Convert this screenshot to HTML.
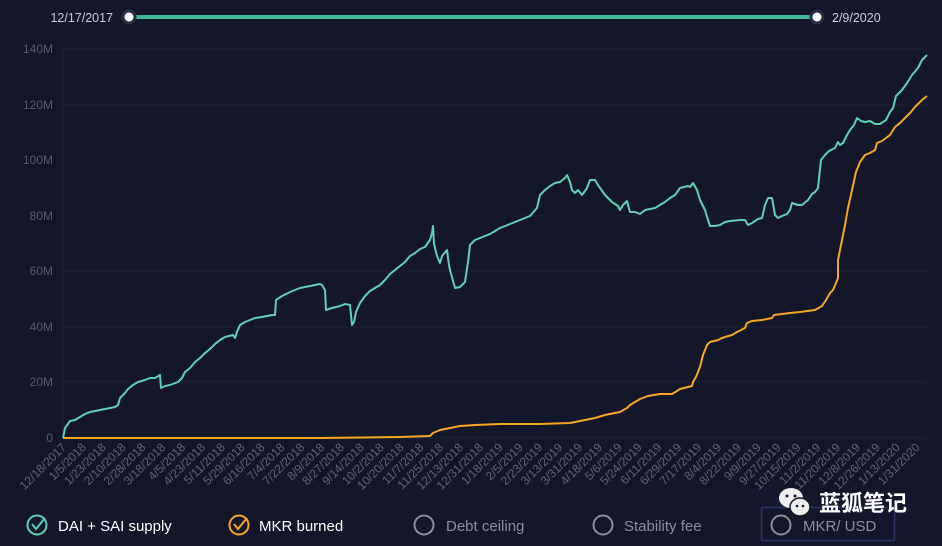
<!DOCTYPE html>
<html><head><meta charset="utf-8"><style>
html,body{margin:0;padding:0;background:#14162a;}
body{width:942px;height:546px;overflow:hidden;position:relative;font-family:"Liberation Sans","Noto Sans CJK SC",sans-serif;}
</style></head><body>
<svg width="942" height="546" xmlns="http://www.w3.org/2000/svg" style="position:absolute;left:0;top:0">
<rect width="942" height="546" fill="#14162a"/>
<text x="113" y="22" fill="#c9cbd6" font-size="12.5" text-anchor="end" font-family="Liberation Sans, sans-serif">12/17/2017</text>
<text x="832" y="22" fill="#c9cbd6" font-size="12.5" font-family="Liberation Sans, sans-serif">2/9/2020</text>
<line x1="129" y1="17" x2="817" y2="17" stroke="#3fb59a" stroke-width="4"/>
<circle cx="129" cy="17" r="6" fill="#fff" stroke="#2a2d45" stroke-width="3"/>
<circle cx="817" cy="17" r="6" fill="#fff" stroke="#2a2d45" stroke-width="3"/>
<g stroke="#1e2136" stroke-width="1">
<line x1="63" y1="49" x2="927" y2="49"/><line x1="63" y1="105" x2="927" y2="105"/>
<line x1="63" y1="160" x2="927" y2="160"/><line x1="63" y1="216" x2="927" y2="216"/>
<line x1="63" y1="271" x2="927" y2="271"/><line x1="63" y1="327" x2="927" y2="327"/>
<line x1="63" y1="382" x2="927" y2="382"/><line x1="63" y1="438" x2="927" y2="438"/>
<line x1="63" y1="49" x2="63" y2="438"/>
</g>
<g fill="#565a70" font-size="12" text-anchor="end" font-family="Liberation Sans, sans-serif">
<text x="53" y="53">140M</text><text x="53" y="109">120M</text><text x="53" y="164">100M</text>
<text x="53" y="220">80M</text><text x="53" y="275">60M</text><text x="53" y="331">40M</text>
<text x="53" y="386">20M</text><text x="53" y="442">0</text>
</g>
<g fill="#5f6378" font-size="12" text-anchor="end" font-family="Liberation Sans, sans-serif" id="xl"></g>
<polyline fill="none" stroke="#f5a623" stroke-width="2" stroke-linejoin="round" points="63,438 320,438 400,437 430,436 433,433 440,430 450,428 460,426 475,425 500,424 540,424 570,423 575,422 585,420 595,418 605,415 620,412 627,408 630,405 635,402 640,399 648,396 660,394 672,394 677,391 680,389 692,386 693,382 696,377 700,367 703,355 707,345 710,342 718,340 722,338 725,337 732,335 737,332 745,328 747,323 752,321 762,320 772,318 774,315 790,313 800,312 815,310 822,306 826,300 830,293 833,290 836,283 838,278 838,260 841,245 845,225 848,208 852,190 856,172 860,162 865,155 870,153 875,150 877,143 882,141 890,135 895,127 900,123 905,118 910,113 915,107 922,100 927,96"/>
<polyline fill="none" stroke="#5fd0b3" stroke-width="2" stroke-linejoin="round" points="63,438 65,428 70,421 75,420 80,417 85,414 90,412 95,411 100,410 105,409 110,408 115,407 118,405 120,398 125,393 128,389 133,385 138,382 145,380 150,378 155,378 160,375 161,388 165,386 170,385 178,382 182,378 185,372 190,368 195,362 200,358 205,353 210,349 215,344 220,340 225,337 233,335 235,338 237,332 240,325 245,322 250,320 255,318 262,317 272,315 275,315 276,300 282,296 290,292 300,288 310,286 320,284 322,285 325,290 326,310 332,308 340,306 345,304 350,305 352,325 354,322 356,312 360,303 365,296 370,291 375,288 380,285 385,280 390,274 395,270 400,266 405,262 410,256 415,253 420,249 425,247 430,240 432,233 433,226 434,244 437,256 440,263 442,256 447,250 449,265 450,270 455,288 460,287 465,282 468,262 470,245 475,240 480,238 490,234 500,228 510,224 520,220 530,216 537,208 540,195 545,190 550,186 555,183 560,182 565,178 567,175 570,182 572,190 575,193 578,190 582,195 587,188 590,180 595,180 598,185 605,195 612,202 618,206 620,210 623,205 627,201 630,212 635,212 640,214 645,210 655,208 665,202 670,198 675,195 680,188 688,186 690,187 693,183 697,190 700,200 705,210 708,220 710,226 715,226 720,225 725,222 730,221 740,220 745,220 748,225 752,223 758,219 762,218 765,205 768,198 772,198 775,215 778,218 782,216 787,214 790,210 792,203 798,205 802,205 808,200 812,194 815,192 818,188 821,160 825,155 829,151 835,148 838,142 840,145 843,143 847,135 850,130 854,125 857,118 861,121 865,122 870,121 875,124 880,124 886,120 890,112 893,108 896,96 902,90 907,83 912,75 918,68 922,60 927,55"/>
<g font-size="15" font-family="Liberation Sans, sans-serif">
<circle cx="37" cy="525" r="9.5" fill="none" stroke="#5fd0b3" stroke-width="2"/>
<polyline points="32,524 36,529 45,518" fill="none" stroke="#5fd0b3" stroke-width="2"/>
<text x="58" y="531" fill="#fff">DAI + SAI supply</text>
<circle cx="239" cy="525" r="9.5" fill="none" stroke="#f5a623" stroke-width="2"/>
<polyline points="234,524 238,529 247,518" fill="none" stroke="#f5a623" stroke-width="2"/>
<text x="259" y="531" fill="#fff">MKR burned</text>
<circle cx="424" cy="525" r="9.5" fill="none" stroke="#8a8d9c" stroke-width="2"/>
<text x="446" y="531" fill="#8a8d9c">Debt ceiling</text>
<circle cx="603" cy="525" r="9.5" fill="none" stroke="#8a8d9c" stroke-width="2"/>
<text x="624" y="531" fill="#8a8d9c">Stability fee</text>
<rect x="761.5" y="507.5" width="133" height="33" fill="none" stroke="#2b3560" stroke-width="1.5"/>
<circle cx="781" cy="525" r="9.5" fill="none" stroke="#8a8d9c" stroke-width="2"/>
<text x="803" y="531" fill="#8a8d9c">MKR/ USD</text>
</g>
<ellipse cx="791" cy="498" rx="12" ry="10" fill="#eee"/>
<ellipse cx="800" cy="507" rx="10" ry="9" fill="#eee" stroke="#14162a" stroke-width="1.5"/>
<circle cx="787" cy="496" r="1.5" fill="#14162a"/><circle cx="795" cy="496" r="1.5" fill="#14162a"/>
<circle cx="797" cy="506" r="1.3" fill="#14162a"/><circle cx="803" cy="506" r="1.3" fill="#14162a"/>
<text x="819" y="511" fill="#fff" font-size="22" font-family="Noto Sans CJK SC, sans-serif" font-weight="bold">蓝狐笔记</text>
</svg>
<script>
var L="12/18/2017,1/5/2018,1/23/2018,2/10/2018,2/28/2018,3/18/2018,4/5/2018,4/23/2018,5/11/2018,5/29/2018,6/16/2018,7/4/2018,7/22/2018,8/9/2018,8/27/2018,9/14/2018,10/2/2018,10/20/2018,11/7/2018,11/25/2018,12/13/2018,12/31/2018,1/18/2019,2/5/2019,2/23/2019,3/13/2019,3/31/2019,4/18/2019,5/6/2019,5/24/2019,6/11/2019,6/29/2019,7/17/2019,8/4/2019,8/22/2019,9/9/2019,9/27/2019,10/15/2019,11/2/2019,11/20/2019,12/8/2019,12/26/2019,1/13/2020,1/31/2020".split(",");
var g=document.getElementById("xl"),ns="http://www.w3.org/2000/svg";
L.forEach(function(s,i){var x=67+i*19.85,y=448;var t=document.createElementNS(ns,"text");t.setAttribute("x",x);t.setAttribute("y",y);t.setAttribute("transform","rotate(-45 "+x+" "+y+")");t.textContent=s;g.appendChild(t);});
</script>
</body></html>
